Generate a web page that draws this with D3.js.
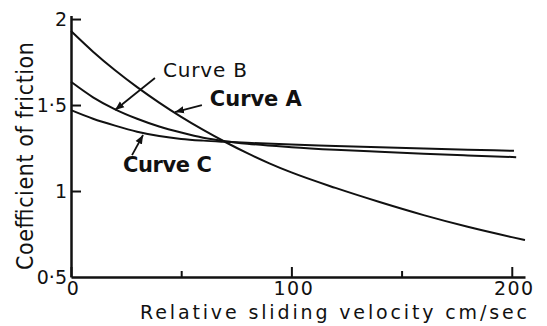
<!DOCTYPE html>
<html>
<head>
<meta charset="utf-8">
<script src="https://cdn.jsdelivr.net/npm/d3@7"></script>
<style>
  body { margin: 0; background: #fff; }
  svg { display: block; font-family: "DejaVu Sans", sans-serif; }
</style>
</head>
<body>
<svg width="547" height="326"></svg>
<script>
// velocity (cm/sec) and friction coefficient
var velA = [0, 10, 20, 30, 40, 50, 60, 70, 80, 90, 100, 120, 140, 160, 180, 200, 206];
var muA = [1.93, 1.81, 1.702, 1.604, 1.514, 1.431, 1.355, 1.285, 1.22, 1.161, 1.108, 1.018, 0.936, 0.86, 0.792, 0.732, 0.715];
var velB = [0, 10, 20, 30, 40, 50, 60, 70, 80, 100, 120, 140, 160, 180, 202];
var muB = [1.635, 1.545, 1.475, 1.42, 1.375, 1.34, 1.31, 1.29, 1.275, 1.255, 1.24, 1.228, 1.217, 1.207, 1.197];
var velC = [0, 10, 20, 30, 40, 50, 60, 70, 80, 100, 120, 140, 160, 180, 201];
var muC = [1.47, 1.42, 1.38, 1.345, 1.32, 1.303, 1.293, 1.286, 1.28, 1.27, 1.262, 1.254, 1.247, 1.24, 1.234];

var xMajor = [0, 100, 200];
var xMinor = [50, 150];
var yTicks = [0.5, 1, 1.5, 2];
var yTickLabels = ["0·5", "1", "1·5", "2"];

// label text, label anchor and arrow (from -> to), all in data units
var notes = [
  {text: "Curve B", bold: false, at: [41.7, 1.663], from: [38.1, 1.657], to: [20.0, 1.471], len: 84},
  {text: "Curve A", bold: true, at: [63.0, 1.494], from: [59.4, 1.50], to: [47.2, 1.459], len: 92},
  {text: "Curve C", bold: true, at: [23.6, 1.110], from: [27.7, 1.209], to: [32.7, 1.326], len: 89}
];

var svg = d3.select("svg");
var x = d3.scaleLinear().domain([0, 206]).range([71, 525]);
var y = d3.scaleLinear().domain([0.5, 2.02]).range([277, 15.6]);

var defs = svg.append("defs");
defs.append("marker").attr("id", "head")
  .attr("viewBox", "0 0 10 10").attr("refX", 10).attr("refY", 5)
  .attr("markerWidth", 9).attr("markerHeight", 9)
  .attr("markerUnits", "userSpaceOnUse").attr("orient", "auto")
  .append("path").attr("d", "M0,1L10,5L0,9z").attr("fill", "#111");

// axes
var gx = svg.append("g").attr("transform", "translate(0," + y(0.5) + ")");
gx.call(d3.axisBottom(x).tickValues(xMajor).tickSizeInner(-10).tickSizeOuter(0).tickPadding(5));
gx.append("g").call(d3.axisBottom(x).tickValues(xMinor).tickSizeInner(-6).tickSizeOuter(0).tickFormat(""))
  .select(".domain").remove();

var gy = svg.append("g").attr("transform", "translate(" + x(0) + ",0)");
gy.call(d3.axisLeft(y).tickValues(yTicks).tickSizeInner(-10).tickSizeOuter(0).tickPadding(4)
  .tickFormat(function(d, i) { return yTickLabels[i]; }));
gy.selectAll(".tick").filter(function(d) { return d === 0.5; }).select("line").remove();

svg.selectAll(".domain").attr("stroke", "#111").attr("stroke-width", 2.5);
svg.selectAll(".tick line").attr("stroke", "#111").attr("stroke-width", 2);
svg.selectAll(".tick text").attr("fill", "#111").style("font-size", "19px")
  .style("font-family", "DejaVu Sans, sans-serif");
gx.selectAll(".tick text").attr("dx", 2).style("letter-spacing", "1.5px");

// curves
var line = d3.line().x(function(d) { return x(d[0]); }).y(function(d) { return y(d[1]); })
  .curve(d3.curveMonotoneX);
var series = [d3.zip(velA, muA), d3.zip(velB, muB), d3.zip(velC, muC)];
svg.append("g").selectAll("path").data(series).enter().append("path")
  .attr("d", line).attr("fill", "none").attr("stroke", "#111").attr("stroke-width", 2);

// curve labels and arrows
var ann = svg.append("g").selectAll("g").data(notes).enter().append("g");
ann.append("line")
  .attr("x1", function(d) { return x(d.from[0]); }).attr("y1", function(d) { return y(d.from[1]); })
  .attr("x2", function(d) { return x(d.to[0]); }).attr("y2", function(d) { return y(d.to[1]); })
  .attr("stroke", "#111").attr("stroke-width", 1.8).attr("marker-end", "url(#head)");
ann.append("text")
  .attr("x", function(d) { return x(d.at[0]); }).attr("y", function(d) { return y(d.at[1]); })
  .attr("textLength", function(d) { return d.len; }).attr("lengthAdjust", "spacing")
  .style("font-size", function(d) { return d.bold ? "21px" : "20px"; })
  .style("font-weight", function(d) { return d.bold ? "bold" : "normal"; })
  .attr("fill", "#111")
  .text(function(d) { return d.text; });

// axis titles
svg.append("text").attr("x", 140).attr("y", 319)
  .attr("textLength", 387).attr("lengthAdjust", "spacing")
  .style("font-size", "19px").attr("fill", "#111")
  .text("Relative sliding velocity cm/sec");
svg.append("text").attr("transform", "translate(33,156) rotate(-90)")
  .attr("text-anchor", "middle")
  .attr("textLength", 228).attr("lengthAdjust", "spacing")
  .style("font-size", "23px").style("font-family", "DejaVu Sans Condensed, DejaVu Sans, sans-serif")
  .attr("fill", "#111")
  .text("Coefficient of friction");
</script>
</body>
</html>
